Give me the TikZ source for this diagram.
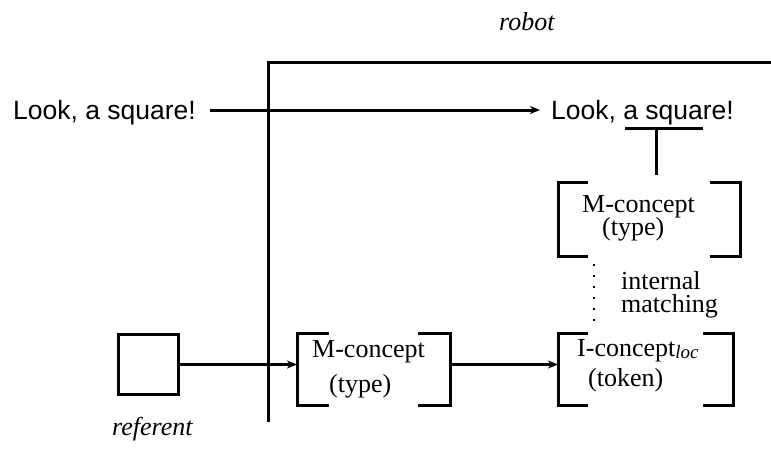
\documentclass[tikz,border=0pt]{standalone}
\usepackage{fontspec}
\setmainfont{Liberation Serif}
\newfontfamily\sansfam{Liberation Sans}
\usetikzlibrary{arrows.meta}
\tikzset{
  ln/.style={line width=3pt},
  arr/.style={line width=3pt,-{Stealth[length=10pt,width=8pt,inset=3pt]}},
  serif/.style={inner sep=0pt,font=\fontsize{26}{30}\selectfont,anchor=base west},
  sanstext/.style={inner sep=0pt,font=\sansfam\fontsize{26.5}{30}\selectfont,anchor=base west},
  frame/.style={draw=none,inner sep=0pt,anchor=north west},
}
\newcommand{\bracketbox}[2]{%
  \draw[ln] ([xshift=#2]#1.north west) -- (#1.north west) -- (#1.south west) -- ([xshift=#2]#1.south west);
  \draw[ln] ([xshift=-#2]#1.north east) -- (#1.north east) -- (#1.south east) -- ([xshift=-#2]#1.south east);
}
\newcommand{\twolines}[3]{\vtop{\baselineskip=23pt\lineskiplimit=-20pt\hbox{#1}\hbox{\hspace*{#3}#2}}}
\begin{document}
\begin{tikzpicture}[x=1pt,y=-1pt]
\useasboundingbox (0,0) rectangle (771,450);
% robot frame
\coordinate (frTR) at (771,62);
\coordinate (frTL) at (268,62);
\coordinate (frB) at (268,422);
\draw[ln] (frTR) -- (frTL) -- (frB);
\node[inner sep=0pt,font=\fontsize{26}{30}\selectfont\itshape,anchor=base west] (robot) at (499,30) {robot};
% utterances
\node[sanstext] (lookL) at (13,119) {Look, a square!};
\node[sanstext] (lookR) at (551,119) {Look, a square!};
\coordinate (aS) at (210,110);
\coordinate (aE) at (540,110);
\draw[arr] (aS) -- (aE);
% T under "square"
\coordinate (uL) at (625,128);
\coordinate (uR) at (703,128);
\coordinate (uM) at (656,128);
\coordinate (uB) at (656,175);
\draw[ln] (uL) -- (uR);
\draw[ln] (uM) -- (uB);
% upper M-concept
\node[frame,minimum width=182pt,minimum height=74pt] (mup) at (558,182) {};
\bracketbox{mup}{30pt}
\node[serif] (mupT) at (582,212) {\twolines{M-concept}{(type)}{20pt}};
% dotted internal matching
\coordinate (dT) at (594,264);
\coordinate (dB) at (594,328);
\draw[line width=2.4pt,dash pattern=on 2.4pt off 8.5pt] (dT) -- (dB);
\node[serif] (im) at (621,289) {\twolines{internal}{matching}{0pt}};
% I-concept
\node[frame,minimum width=175pt,minimum height=72pt] (ic) at (558,333) {};
\bracketbox{ic}{30pt}
\node[serif] (icA) at (577,356) {I-concept\raisebox{-2pt}{\fontsize{19}{20}\selectfont\itshape loc}};
\node[serif] (icB) at (588,386) {(token)};
% middle M-concept
\node[frame,minimum width=153pt,minimum height=72pt] (mid) at (297,333) {};
\bracketbox{mid}{32pt}
\node[serif] (midA) at (312,357) {M-concept};
\node[serif] (midB) at (329,392) {(type)};
% referent
\node[draw,line width=3pt,minimum size=60pt,inner sep=0pt,anchor=north west] (sq) at (117,333) {};
\node[inner sep=0pt,font=\fontsize{26}{30}\selectfont\itshape,anchor=base west] (ref) at (112,435) {referent};
% arrows
\draw[arr] (sq.east) -- (sq.east -| mid.west);
\draw[arr] (sq.east -| mid.east) -- (sq.east -| ic.west);
\end{tikzpicture}
\end{document}
